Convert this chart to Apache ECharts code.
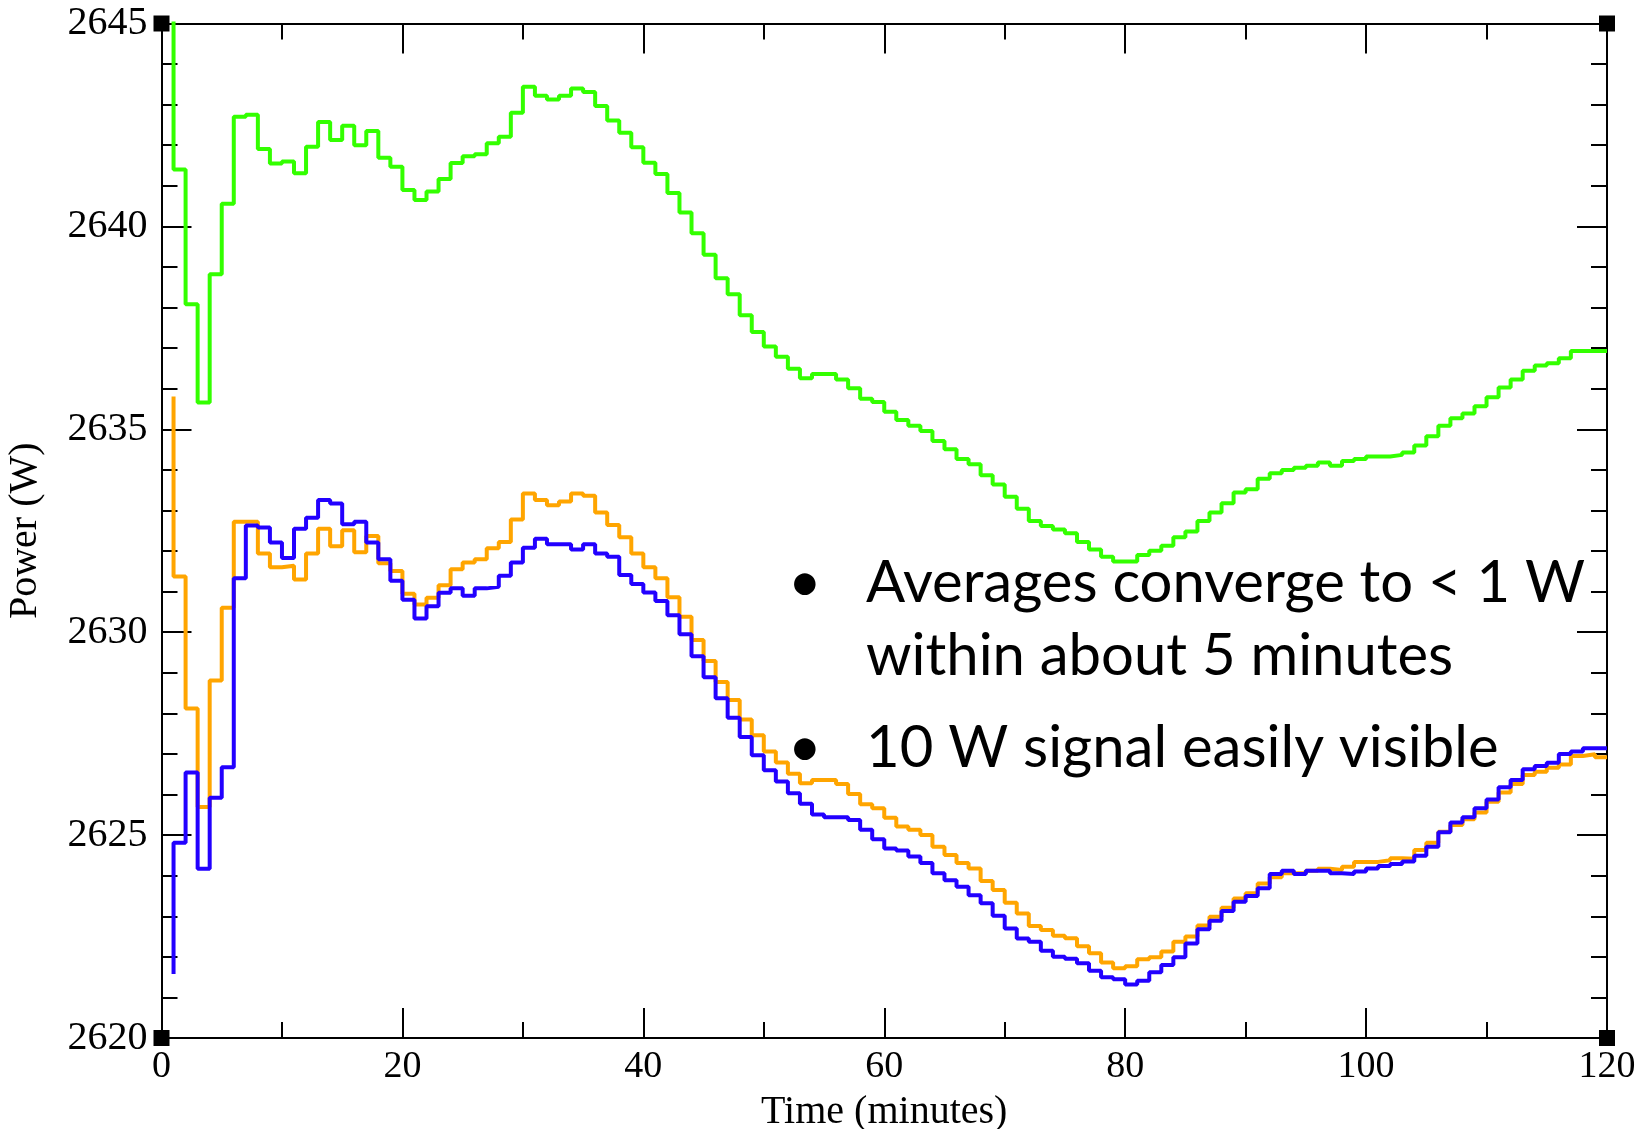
<!DOCTYPE html>
<html>
<head>
<meta charset="utf-8">
<script src="https://cdn.jsdelivr.net/npm/echarts@6/dist/echarts.min.js"></script>
<style>html,body{margin:0;padding:0;background:#fff}#chart{width:1652px;height:1129px}</style>
</head>
<body>
<div id="chart"></div>
<script>
// x positions: minutes 1..120 (value at minute k = level of the step ending at k; first value = starting point)
const greenValues = [2647.5,
 2641.40,2638.08,2635.66,2638.82,2640.56,2642.70,2642.75,2641.91,2641.55,2641.60,
 2641.31,2641.96,2642.57,2642.13,2642.48,2642.00,2642.35,2641.69,2641.47,2640.90,
 2640.65,2640.86,2641.17,2641.56,2641.73,2641.78,2642.05,2642.21,2642.80,2643.44,
 2643.22,2643.13,2643.22,2643.40,2643.31,2642.97,2642.61,2642.31,2641.95,2641.57,
 2641.29,2640.82,2640.34,2639.83,2639.30,2638.72,2638.33,2637.81,2637.40,2637.04,
 2636.79,2636.49,2636.26,2636.36,2636.36,2636.23,2636.01,2635.75,2635.67,2635.43,
 2635.23,2635.09,2634.96,2634.71,2634.51,2634.27,2634.14,2633.87,2633.64,2633.34,
 2633.04,2632.74,2632.62,2632.53,2632.44,2632.22,2632.04,2631.86,2631.74,2631.74,
 2631.90,2632.01,2632.13,2632.34,2632.48,2632.74,2632.95,2633.18,2633.44,2633.52,
 2633.78,2633.92,2634.00,2634.05,2634.10,2634.18,2634.10,2634.22,2634.27,2634.33,
 2634.33,2634.37,2634.43,2634.60,2634.83,2635.09,2635.27,2635.39,2635.57,2635.79,
 2636.03,2636.23,2636.44,2636.57,2636.63,2636.75,2636.93,2636.93,2636.93];

const orangeValues = [2635.81,
 2631.37,2628.12,2625.69,2628.81,2630.60,2632.72,2632.72,2631.94,2631.60,2631.64,
 2631.30,2631.94,2632.55,2632.12,2632.51,2631.97,2632.37,2631.70,2631.51,2630.95,
 2630.68,2630.85,2631.16,2631.55,2631.72,2631.80,2632.07,2632.22,2632.78,2633.42,
 2633.26,2633.13,2633.22,2633.42,2633.36,2632.95,2632.64,2632.34,2631.94,2631.60,
 2631.33,2630.86,2630.38,2629.81,2629.29,2628.77,2628.33,2627.85,2627.46,2627.06,
 2626.79,2626.51,2626.28,2626.36,2626.36,2626.26,2626.01,2625.76,2625.66,2625.43,
 2625.21,2625.13,2625.00,2624.71,2624.51,2624.31,2624.18,2623.87,2623.65,2623.33,
 2623.07,2622.76,2622.66,2622.52,2622.46,2622.26,2622.09,2621.86,2621.72,2621.77,
 2621.94,2621.99,2622.13,2622.37,2622.50,2622.77,2622.99,2623.21,2623.44,2623.57,
 2623.81,2623.96,2624.06,2624.06,2624.12,2624.17,2624.14,2624.22,2624.34,2624.34,
 2624.38,2624.43,2624.42,2624.63,2624.81,2625.08,2625.25,2625.39,2625.56,2625.82,
 2626.05,2626.26,2626.48,2626.56,2626.66,2626.74,2626.95,2626.99,2626.92];

const blueValues = [2621.58,
 2624.81,2626.54,2624.17,2625.92,2626.67,2631.33,2632.63,2632.58,2632.21,2631.83,
 2632.55,2632.82,2633.26,2633.17,2632.66,2632.72,2632.21,2631.80,2631.27,2630.80,
 2630.34,2630.64,2630.97,2631.08,2630.90,2631.08,2631.12,2631.39,2631.72,2632.08,
 2632.30,2632.17,2632.17,2632.04,2632.17,2631.94,2631.86,2631.41,2631.19,2630.98,
 2630.77,2630.42,2629.95,2629.41,2628.89,2628.37,2627.89,2627.42,2626.97,2626.60,
 2626.32,2626.03,2625.77,2625.51,2625.44,2625.44,2625.37,2625.13,2624.90,2624.67,
 2624.62,2624.47,2624.31,2624.06,2623.89,2623.73,2623.52,2623.32,2623.01,2622.70,
 2622.45,2622.37,2622.15,2622.00,2621.95,2621.84,2621.66,2621.50,2621.45,2621.32,
 2621.41,2621.62,2621.80,2621.99,2622.33,2622.68,2622.89,2623.13,2623.36,2623.50,
 2623.69,2624.04,2624.12,2624.04,2624.12,2624.12,2624.06,2624.04,2624.10,2624.18,
 2624.24,2624.29,2624.35,2624.49,2624.71,2625.07,2625.31,2625.44,2625.66,2625.88,
 2626.18,2626.36,2626.62,2626.70,2626.78,2627.00,2627.06,2627.14,2627.14];

const firstMinute = 1;
const xTicks = [0, 20, 40, 60, 80, 100, 120];
const yTicks = [2620, 2625, 2630, 2635, 2640, 2645];
const cornerPoints = [[0, 2620], [0, 2645], [120, 2620], [120, 2645]];
const notes = ['Averages converge to < 1 W', 'within about 5 minutes', '10 W signal easily visible'];

function toPairs(vals) { return vals.map((v, i) => [firstMinute + i, v]); }

const serif = '"Liberation Serif", "DejaVu Serif", serif';

const chart = echarts.init(document.getElementById('chart'), null, { renderer: 'canvas' });
const baseX = {
  type: 'value', min: xTicks[0], max: xTicks[xTicks.length - 1], interval: 20,
  axisLine: { show: true, onZero: false, lineStyle: { color: '#000', width: 2 } },
  axisTick: { show: true, inside: true, length: 30, lineStyle: { color: '#000', width: 2 } },
  minorTick: { show: true, splitNumber: 2, length: 16, lineStyle: { color: '#000', width: 2 } },
  splitLine: { show: false }, minorSplitLine: { show: false }
};
const baseY = {
  type: 'value', min: yTicks[0], max: yTicks[yTicks.length - 1], interval: 5,
  axisLine: { show: true, onZero: false, lineStyle: { color: '#000', width: 2 } },
  axisTick: { show: true, inside: true, length: 30, lineStyle: { color: '#000', width: 2 } },
  minorTick: { show: true, splitNumber: 5, length: 16, lineStyle: { color: '#000', width: 2 } },
  splitLine: { show: false }, minorSplitLine: { show: false }
};

const noteFont = '58px Lato';
const option = {
  animation: false,
  backgroundColor: '#fff',
  grid: { left: 161.5, right: 45, top: 23.5, bottom: 91, containLabel: false, outerBoundsMode: 'none' },
  xAxis: [
    Object.assign({}, baseX, {
      position: 'bottom',
      name: 'Time (minutes)', nameLocation: 'middle', nameGap: 54,
      nameTextStyle: { fontFamily: serif, fontSize: 40, color: '#000' },
      axisLabel: { show: true, margin: 10, fontFamily: serif, fontSize: 38, color: '#000',
        formatter: v => String(v) }
    }),
    Object.assign({}, baseX, { position: 'top', axisLabel: { show: false } })
  ],
  yAxis: [
    Object.assign({}, baseY, {
      position: 'left',
      name: 'Power (W)', nameLocation: 'middle', nameGap: 116, nameRotate: 90,
      nameTextStyle: { fontFamily: serif, fontSize: 40, color: '#000' },
      axisLabel: { show: true, margin: 14, fontFamily: serif, fontSize: 40, color: '#000',
        formatter: v => String(v) }
    }),
    Object.assign({}, baseY, { position: 'right', axisLabel: { show: false } })
  ],
  series: [
    { type: 'line', name: 'green', data: toPairs(greenValues), step: 'start', showSymbol: false, symbol: 'none',
      lineStyle: { color: '#33ff00', width: 4 }, clip: true, z: 3 },
    { type: 'line', name: 'orange', data: toPairs(orangeValues), step: 'start', showSymbol: false, symbol: 'none',
      lineStyle: { color: '#ffa500', width: 4 }, clip: true, z: 3 },
    { type: 'line', name: 'blue', data: toPairs(blueValues), step: 'start', showSymbol: false, symbol: 'none',
      lineStyle: { color: '#2200ff', width: 4 }, clip: true, z: 4 },
    { type: 'scatter', data: cornerPoints, symbol: 'rect', symbolSize: 16, clip: false,
      itemStyle: { color: '#000', opacity: 1 }, z: 10, silent: true }
  ],
  graphic: [
    { type: 'text', left: 788, top: 554, style: { text: '•', font: noteFont, fill: '#000' } },
    { type: 'text', left: 866, top: 554, style: { text: notes[0], font: noteFont, fill: '#000' } },
    { type: 'text', left: 866, top: 627, style: { text: notes[1], font: noteFont, fill: '#000' } },
    { type: 'text', left: 788, top: 719, style: { text: '•', font: noteFont, fill: '#000' } },
    { type: 'text', left: 866, top: 719, style: { text: notes[2], font: noteFont, fill: '#000' } }
  ]
};
chart.setOption(option);
</script>
</body>
</html>
